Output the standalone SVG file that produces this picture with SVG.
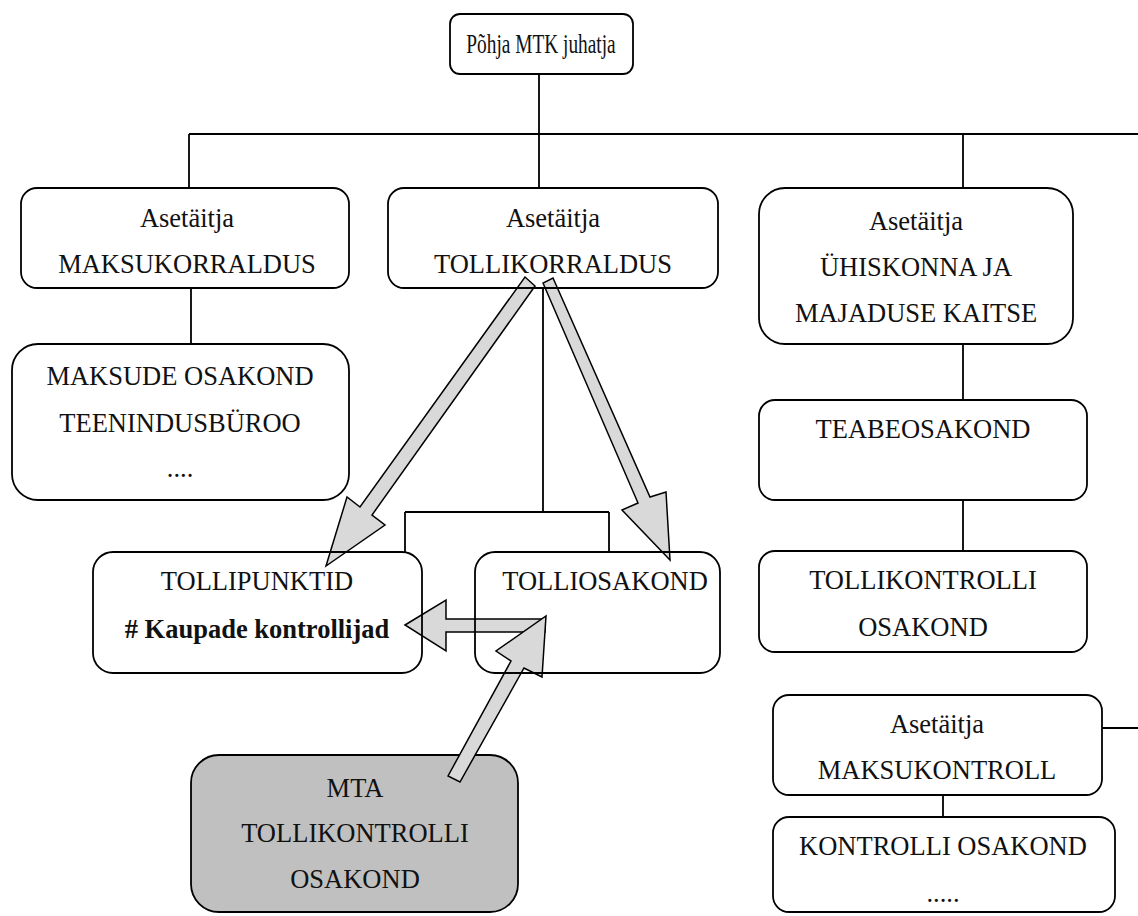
<svg xmlns="http://www.w3.org/2000/svg" width="1138" height="916" viewBox="0 0 1138 916">
<defs>
<style>
.box{fill:none;stroke:#000;stroke-width:1.8}
.gray{fill:#c0c0c0;stroke:#000;stroke-width:1.8}
.ln{fill:none;stroke:#000;stroke-width:1.8}
.arr{fill:#d9d9d9;stroke:#000;stroke-width:1.5;stroke-linejoin:miter}
text{font-family:"Liberation Serif","Times New Roman",serif;font-size:26.5px;fill:#111;text-anchor:middle}
.b{font-weight:bold}
</style>
</defs>
<rect width="1138" height="916" fill="#fff"/>
<g id="n-mta">
<rect class="gray" x="191" y="755" width="327" height="157" rx="28"/>
<text x="355" y="797">MTA</text>
<text x="355" y="842">TOLLIKONTROLLI</text>
<text x="355" y="888">OSAKOND</text>
</g>
<g id="connectors">
<path class="ln" d="M539 74V134M189 134H1138M189 134V188M539 134V188M963 134V188M191 288V344M543 288V512M405 512H609M405 512V552M609 512V552M963 344V400M963 500V551M1102 728H1138M943 795V817"/>
<polygon class="arr" points="525,277 535,286 372,515 385,525 326,566 347,497 360,507"/>
<polygon class="arr" points="543,283 638,503 622,510 670,560 666,492 650,497 553,278"/>
<polygon class="arr" points="405,625 446,600 446,619 545,619 545,632 446,632 446,651"/>
<polygon class="arr" points="448,776 511,661 496,651 546,616 542,677 524,668 460,782"/>
</g>
<g id="n-juhatja">
<rect class="box" x="450" y="14" width="183" height="60" rx="10"/>
<text transform="translate(541,53) scale(0.73,1)" font-size="27">Põhja MTK juhatja</text>
</g>
<g id="n-maksukorraldus">
<rect class="box" x="21" y="188" width="328" height="100" rx="16"/>
<text x="187" y="227">Asetäitja</text>
<text x="187" y="273">MAKSUKORRALDUS</text>
</g>
<g id="n-maksude">
<rect class="box" x="12" y="344" width="337" height="156" rx="26"/>
<text x="180" y="385">MAKSUDE OSAKOND</text>
<text x="180" y="432">TEENINDUSBÜROO</text>
<text x="180" y="477">....</text>
</g>
<g id="n-tollikorraldus">
<rect class="box" x="388" y="188" width="330" height="100" rx="16"/>
<text x="553" y="227">Asetäitja</text>
<text x="553" y="273">TOLLIKORRALDUS</text>
</g>
<g id="n-uhiskonna">
<rect class="box" x="759" y="188" width="314" height="156" rx="26"/>
<text x="916" y="230">Asetäitja</text>
<text x="916" y="276">ÜHISKONNA JA</text>
<text x="916" y="322">MAJADUSE KAITSE</text>
</g>
<g id="n-teabe">
<rect class="box" x="759" y="400" width="328" height="100" rx="16"/>
<text x="923" y="438">TEABEOSAKOND</text>
</g>
<g id="n-tollikontrolli">
<rect class="box" x="759" y="551" width="328" height="101" rx="16"/>
<text x="923" y="589">TOLLIKONTROLLI</text>
<text x="923" y="636">OSAKOND</text>
</g>
<g id="n-tollipunktid">
<rect class="box" x="93" y="552" width="329" height="121" rx="20"/>
<text x="257" y="590">TOLLIPUNKTID</text>
<text class="b" x="257" y="638"># Kaupade kontrollijad</text>
</g>
<g id="n-tolliosakond">
<rect class="box" x="475" y="552" width="245" height="121" rx="20"/>
<text x="605" y="590">TOLLIOSAKOND</text>
</g>
<g id="n-maksukontroll">
<rect class="box" x="773" y="695" width="329" height="100" rx="16"/>
<text x="937" y="733">Asetäitja</text>
<text x="937" y="779">MAKSUKONTROLL</text>
</g>
<g id="n-kontrolli">
<rect class="box" x="773" y="817" width="342" height="95" rx="16"/>
<text x="943" y="855">KONTROLLI OSAKOND</text>
<text x="943" y="902">.....</text>
</g>
</svg>
